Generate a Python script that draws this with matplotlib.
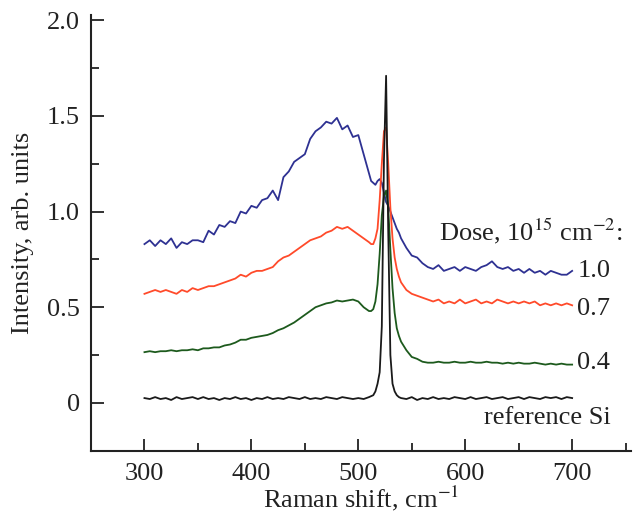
import matplotlib
matplotlib.use('Agg')
import matplotlib.pyplot as plt
from matplotlib.ticker import MultipleLocator

plt.rcParams['font.family'] = ['Liberation Serif', 'DejaVu Serif']
plt.rcParams['mathtext.fontset'] = 'stix'

# Raman shift grid, cm^-1 (denser around the Si peak)
raman_shift = [300, 305, 310, 315, 320, 325, 330, 335, 340, 345, 350, 355, 360, 365, 370,
               375, 380, 385, 390, 395, 400, 405, 410, 415, 420, 425, 430, 435, 440, 445,
               450, 455, 460, 465, 470, 475, 480, 485, 490, 495, 500, 505, 510,
               512, 514, 516, 518, 520, 522, 524, 526, 528, 530, 532, 534, 536, 538, 540,
               545, 550, 555, 560, 565, 570, 575, 580, 585, 590, 595, 600, 605, 610, 615,
               620, 625, 630, 635, 640, 645, 650, 655, 660, 665, 670, 675, 680, 685, 690,
               695, 700]

dose_10 = [0.83, 0.85, 0.82, 0.85, 0.83, 0.86, 0.81, 0.84, 0.83, 0.85, 0.85, 0.84, 0.90, 0.88, 0.93,
           0.92, 0.95, 0.94, 1.00, 0.99, 1.03, 1.02, 1.06, 1.07, 1.11, 1.06, 1.18, 1.21, 1.26, 1.28,
           1.30, 1.38, 1.42, 1.44, 1.47, 1.46, 1.49, 1.43, 1.45, 1.39, 1.40, 1.30, 1.20,
           1.16, 1.15, 1.14, 1.16, 1.17, 1.15, 1.10, 1.05, 1.03, 1.00, 0.97, 0.94, 0.91, 0.89, 0.86,
           0.81, 0.77, 0.76, 0.73, 0.71, 0.70, 0.72, 0.69, 0.70, 0.71, 0.69, 0.71, 0.70, 0.69, 0.71,
           0.72, 0.74, 0.71, 0.70, 0.71, 0.69, 0.70, 0.68, 0.70, 0.68, 0.69, 0.67, 0.69, 0.68, 0.67,
           0.67, 0.69]

dose_07 = [0.57, 0.58, 0.59, 0.58, 0.59, 0.58, 0.57, 0.59, 0.58, 0.60, 0.59, 0.60, 0.61, 0.61, 0.62,
           0.63, 0.64, 0.65, 0.67, 0.66, 0.68, 0.69, 0.69, 0.70, 0.71, 0.74, 0.76, 0.77, 0.79, 0.81,
           0.83, 0.85, 0.86, 0.87, 0.89, 0.90, 0.92, 0.91, 0.92, 0.90, 0.88, 0.86, 0.84,
           0.83, 0.83, 0.86, 0.91, 1.06, 1.25, 1.42, 1.44, 1.25, 1.02, 0.86, 0.76, 0.70, 0.66, 0.63,
           0.59, 0.57, 0.56, 0.55, 0.54, 0.53, 0.54, 0.52, 0.53, 0.52, 0.54, 0.52, 0.53, 0.54, 0.52,
           0.53, 0.52, 0.54, 0.53, 0.52, 0.53, 0.52, 0.53, 0.52, 0.53, 0.51, 0.52, 0.51, 0.52, 0.51,
           0.52, 0.51]

dose_04 = [0.265, 0.27, 0.265, 0.27, 0.27, 0.275, 0.27, 0.275, 0.275, 0.28, 0.275, 0.285, 0.285, 0.29, 0.29,
           0.30, 0.305, 0.315, 0.33, 0.33, 0.34, 0.345, 0.35, 0.355, 0.365, 0.38, 0.39, 0.405, 0.42, 0.44,
           0.46, 0.48, 0.50, 0.51, 0.52, 0.525, 0.535, 0.53, 0.535, 0.54, 0.53, 0.50, 0.48,
           0.48, 0.49, 0.53, 0.62, 0.78, 0.98, 1.08, 1.11, 1.02, 0.80, 0.60, 0.47, 0.39, 0.35, 0.32,
           0.275, 0.24, 0.23, 0.215, 0.21, 0.21, 0.215, 0.21, 0.21, 0.215, 0.21, 0.21, 0.215, 0.21, 0.21,
           0.215, 0.21, 0.21, 0.205, 0.21, 0.205, 0.21, 0.205, 0.205, 0.21, 0.205, 0.20, 0.205, 0.20, 0.205,
           0.20, 0.20]

reference_si = [0.025, 0.02, 0.03, 0.02, 0.025, 0.015, 0.03, 0.02, 0.025, 0.03, 0.02, 0.03, 0.02, 0.025, 0.015,
                0.025, 0.02, 0.03, 0.02, 0.025, 0.015, 0.025, 0.02, 0.03, 0.02, 0.025, 0.02, 0.03, 0.025, 0.02,
                0.03, 0.02, 0.025, 0.02, 0.03, 0.025, 0.02, 0.03, 0.025, 0.02, 0.025, 0.02, 0.03,
                0.035, 0.04, 0.06, 0.10, 0.16, 0.40, 1.27, 1.71, 0.90, 0.25, 0.10, 0.06, 0.04, 0.03, 0.025,
                0.02, 0.03, 0.015, 0.025, 0.02, 0.03, 0.02, 0.025, 0.02, 0.03, 0.025, 0.02, 0.03, 0.02, 0.025,
                0.03, 0.02, 0.025, 0.03, 0.02, 0.025, 0.03, 0.02, 0.03, 0.025, 0.02, 0.03, 0.025, 0.03, 0.02,
                0.03, 0.025]

series = [
    (dose_10, '#2e3192'),
    (dose_07, '#ff4a2a'),
    (dose_04, '#1d5a1d'),
    (reference_si, '#1a1a1a'),
]

fig = plt.figure(figsize=(6.39, 5.21), dpi=100)
ax = fig.add_axes([0.1424, 0.135, 0.845, 0.837])

for values, color in series:
    ax.plot(raman_shift, values, color=color, lw=1.3)

ax.set_xlim(250, 755)
ax.set_ylim(-0.25, 2.03)
ax.xaxis.set_major_locator(MultipleLocator(100))
ax.xaxis.set_minor_locator(MultipleLocator(50))
ax.yaxis.set_minor_locator(MultipleLocator(0.25))
ax.set_yticks([0, 0.5, 1.0, 1.5, 2.0])
ax.set_yticklabels(['0', '0.5', '1.0', '1.5', '2.0'])

for side in ['top', 'right']:
    ax.spines[side].set_visible(False)
for side in ['left', 'bottom']:
    ax.spines[side].set_linewidth(1.5)
    ax.spines[side].set_color('#222222')

fs = 19
ax.tick_params(which='major', direction='in', length=9, width=1.3, labelsize=fs, colors='#222222')
ax.tick_params(axis='y', pad=8)
ax.tick_params(axis='x', pad=9)
ax.tick_params(which='minor', direction='in', length=6, width=1.3, colors='#222222')

ax.set_xlabel('Raman shift, cm$^{-1}$', fontsize=fs, labelpad=-1, color='#222222')
ax.set_ylabel('Intensity, arb. units', fontsize=fs, labelpad=9, color='#222222')

ax.text(747, 0.85, 'Dose, 10$^{15}$ cm$^{-2}$:', fontsize=fs, ha='right', va='baseline', color='#222222')
ax.text(705, 0.69, '1.0', fontsize=fs, ha='left', va='center', color='#222222')
ax.text(705, 0.49, '0.7', fontsize=fs, ha='left', va='center', color='#222222')
ax.text(705, 0.21, '0.4', fontsize=fs, ha='left', va='center', color='#222222')
ax.text(736, -0.08, 'reference Si', fontsize=fs, ha='right', va='center', color='#222222')

fig.savefig('out.png', dpi=100)
